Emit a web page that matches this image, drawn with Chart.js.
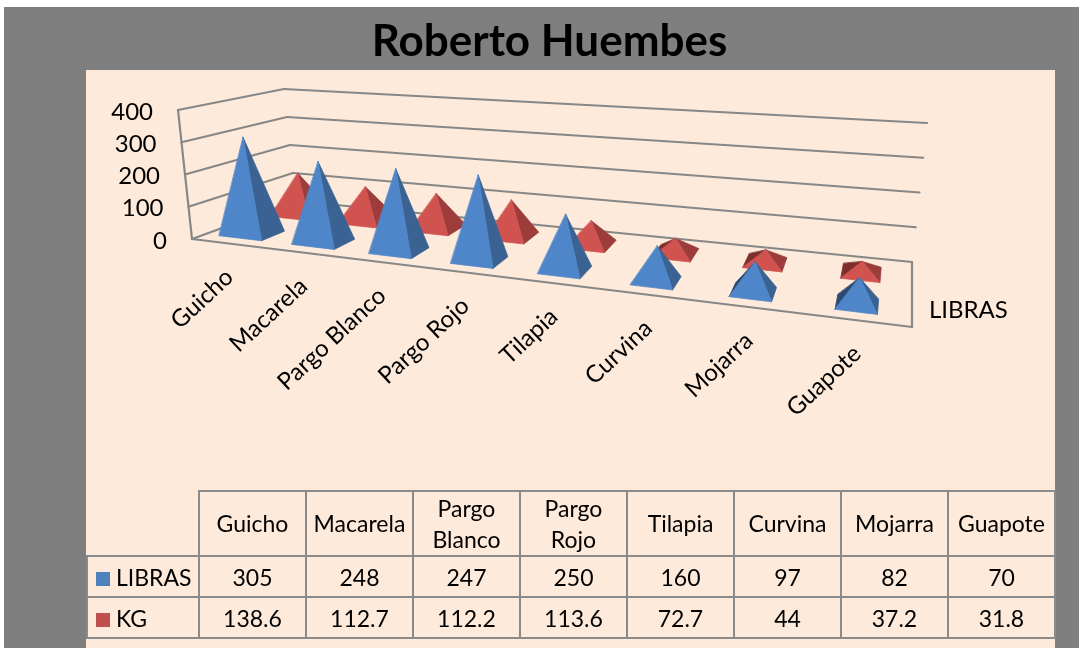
<!DOCTYPE html>
<html>
<head>
<meta charset="utf-8">
<script src="https://cdn.jsdelivr.net/npm/chart.js@4.4.1/dist/chart.umd.min.js"></script>
<style>
html, body { margin: 0; padding: 0; background: #fff; }
#wrap { position: relative; width: 1079px; height: 648px; overflow: hidden; }
#chart-box { position: absolute; left: 0; top: 0; width: 1079px; height: 648px; }
#data-table {
    position: absolute; left: 86px; top: 490px;
    border-collapse: collapse; table-layout: fixed;
    font-family: Lato, "Open Sans", sans-serif; font-size: 23px; color: #000;
}
#data-table td { border: 2px solid #8a8a8a; text-align: center; padding: 0; white-space: nowrap; }
#data-table tr.head td { height: 63px; line-height: 31px; }
#data-table tr.row td { height: 39px; }
#data-table td.corner { border-top: none; border-left: none; }
#data-table td.name { text-align: left; padding-left: 8px; }
.key { display: inline-block; width: 14px; height: 14px; margin-right: 6px; vertical-align: 0px; }
</style>
</head>
<body>
<div id="wrap">
    <div id="chart-box"><canvas id="fish-chart"></canvas></div>
    <table id="data-table"></table>
</div>
<script>
const categories = ['Guicho', 'Macarela', 'Pargo Blanco', 'Pargo Rojo', 'Tilapia', 'Curvina', 'Mojarra', 'Guapote'];
const libras = [305, 248, 247, 250, 160, 97, 82, 70];
const kg = [138.6, 112.7, 112.2, 113.6, 72.7, 44, 37.2, 31.8];
const seriesNames = ['LIBRAS', 'KG'];
const yTicks = [0, 100, 200, 300, 400];

const seriesColors = ['#4F81BD', '#C0504D'];
// front, right, back, left faces
const faceColors = [
    ['#4F86C9', '#3A6393', '#5A8FD0', '#2B4B73'],
    ['#D05350', '#9C3D3B', '#C44C49', '#7E2F2D']
];
const rowDepth = [0.25, 0.75];

// corners of the 3d box as seen on screen (front/back, bottom/top, left/right)
const frame = {
    fbl: [192, 239], fbr: [912, 327], bbl: [296, 201], bbr: [912, 262],
    ftl: [178, 110], ftr: [929, 167], btl: [284, 89], btr: [927, 123]
};
const perspective = -0.222;
const HW = 0.03, HD = 0.12;
const labelFont = '24px Lato, "Open Sans", sans-serif';

const lerp = (a, b, s) => [a[0] + (b[0] - a[0]) * s, a[1] + (b[1] - a[1]) * s];
const warp = (u) => u * (1 + perspective) / (1 + perspective * u);

function proj(w, d, t) {
    const fb = lerp(frame.fbl, frame.fbr, w);
    const bb = lerp(frame.bbl, frame.bbr, w);
    const ft = lerp(frame.ftl, frame.ftr, w);
    const bt = lerp(frame.btl, frame.btr, w);
    return lerp(lerp(fb, bb, d), lerp(ft, bt, d), t);
}

function line(ctx, a, b) {
    ctx.beginPath();
    ctx.moveTo(a[0], a[1]);
    ctx.lineTo(b[0], b[1]);
    ctx.stroke();
}

function drawPyramid(ctx, w, d, t, colors) {
    const A = proj(w - HW, d - HD, 0), B = proj(w + HW, d - HD, 0);
    const C = proj(w + HW, d + HD, 0), D = proj(w - HW, d + HD, 0);
    const P = proj(w, d, t);
    const area = (p, q, r) => (q[0] - p[0]) * (r[1] - p[1]) - (q[1] - p[1]) * (r[0] - p[0]);
    const ref = Math.sign(area(A, B, P));
    const faces = [[A, B, colors[0]], [B, C, colors[1]], [C, D, colors[2]], [D, A, colors[3]]];
    // draw back faces first so front one ends on top
    [2, 3, 1, 0].forEach(i => {
        const [p, q, c] = faces[i];
        const a = area(p, q, P);
        if (Math.abs(a) < 0.5 || Math.sign(a) !== ref) return;
        ctx.beginPath();
        ctx.moveTo(p[0], p[1]);
        ctx.lineTo(q[0], q[1]);
        ctx.lineTo(P[0], P[1]);
        ctx.closePath();
        ctx.fillStyle = c;
        ctx.strokeStyle = c;
        ctx.lineWidth = 0.8;
        ctx.fill();
        ctx.stroke();
    });
}

const backgroundPlugin = {
    id: 'background',
    beforeDraw(chart) {
        const ctx = chart.ctx;
        ctx.save();
        ctx.fillStyle = '#ffffff';
        ctx.fillRect(0, 0, chart.width, chart.height);
        ctx.fillStyle = '#7f7f7f';
        ctx.fillRect(4, 7, chart.width - 4, chart.height - 7);
        ctx.fillStyle = '#FDEADA';
        ctx.fillRect(86, 70, 969, chart.height - 70);
        ctx.restore();
    }
};

const pyramidPlugin = {
    id: 'pyramid3d',
    afterDatasetsDraw(chart) {
        const ctx = chart.ctx;
        const ca = chart.chartArea;
        const xScale = chart.scales.x, yScale = chart.scales.y;
        const tOf = (py) => (ca.bottom - py) / (ca.bottom - ca.top);
        const uOf = (px) => (px - ca.left) / (ca.right - ca.left);

        ctx.save();
        // walls and floor
        ctx.strokeStyle = '#878787';
        ctx.lineWidth = 2.2;
        ctx.lineCap = 'round';
        yTicks.forEach(v => {
            const t = tOf(yScale.getPixelForValue(v));
            line(ctx, proj(0, 0, t), proj(0, 1, t));
            line(ctx, proj(0, 1, t), proj(1, 1, t));
        });
        line(ctx, proj(0, 0, 0), proj(0, 0, 1));
        line(ctx, proj(0, 0, 0), proj(1, 0, 0));
        line(ctx, proj(1, 0, 0), proj(1, 1, 0));

        // y tick labels
        ctx.fillStyle = '#000';
        ctx.font = labelFont;
        ctx.textAlign = 'right';
        ctx.textBaseline = 'middle';
        yTicks.forEach(v => {
            const p = proj(0, 0, tOf(yScale.getPixelForValue(v)));
            ctx.fillText(String(v), p[0] - 25, p[1] + 2);
        });

        // pyramids, back row first
        [1, 0].forEach(di => {
            const meta = chart.getDatasetMeta(di);
            meta.data.forEach(el => {
                const w = warp(uOf(el.x));
                const t = tOf(el.y) - tOf(el.base);
                drawPyramid(ctx, w, rowDepth[di], t, faceColors[di]);
            });
        });

        // category labels along the front edge
        ctx.fillStyle = '#000';
        ctx.font = labelFont;
        ctx.textAlign = 'right';
        ctx.textBaseline = 'middle';
        categories.forEach((c, i) => {
            const p = proj(warp(uOf(xScale.getPixelForValue(i))), 0, 0);
            ctx.save();
            ctx.translate(p[0] + 2, p[1] + 30);
            ctx.rotate(-43 * Math.PI / 180);
            ctx.fillText(c, 0, 0);
            ctx.restore();
        });

        // series axis label
        const s = proj(1, rowDepth[0], 0);
        ctx.textAlign = 'left';
        ctx.fillText(seriesNames[0], s[0] + 17, s[1]);
        ctx.restore();
    }
};

new Chart(document.getElementById('fish-chart'), {
    type: 'bar',
    data: {
        labels: categories,
        datasets: [
            { label: seriesNames[0], data: libras, backgroundColor: 'rgba(0,0,0,0)', borderWidth: 0, grouped: false },
            { label: seriesNames[1], data: kg, backgroundColor: 'rgba(0,0,0,0)', borderWidth: 0, grouped: false }
        ]
    },
    options: {
        responsive: true,
        maintainAspectRatio: false,
        animation: false,
        events: [],
        layout: { padding: { left: 190, right: 170, top: 0, bottom: 320 } },
        plugins: {
            legend: { display: false },
            tooltip: { enabled: false },
            title: {
                display: true,
                text: 'Roberto Huembes',
                color: '#000',
                font: { family: 'Lato', size: 44, weight: 'bold' },
                padding: { top: 15, bottom: 20 }
            }
        },
        scales: {
            x: { display: false, offset: true },
            y: { display: false, min: 0, max: 400, ticks: { stepSize: 100 } }
        }
    },
    plugins: [backgroundPlugin, pyramidPlugin]
});

// data table under the chart
const table = document.getElementById('data-table');
const colWidths = [112].concat(categories.map(() => 107));
let html = '<colgroup>' + colWidths.map(w => `<col style="width:${w}px">`).join('') + '</colgroup>';
html += '<tr class="head"><td class="corner"></td>' +
    categories.map(c => `<td>${c.split(' ').join('<br>')}</td>`).join('') + '</tr>';
[libras, kg].forEach((vals, i) => {
    html += `<tr class="row"><td class="name"><span class="key" style="background:${seriesColors[i]}"></span>${seriesNames[i]}</td>` +
        vals.map(v => `<td>${v}</td>`).join('') + '</tr>';
});
table.innerHTML = html;
</script>
</body>
</html>
